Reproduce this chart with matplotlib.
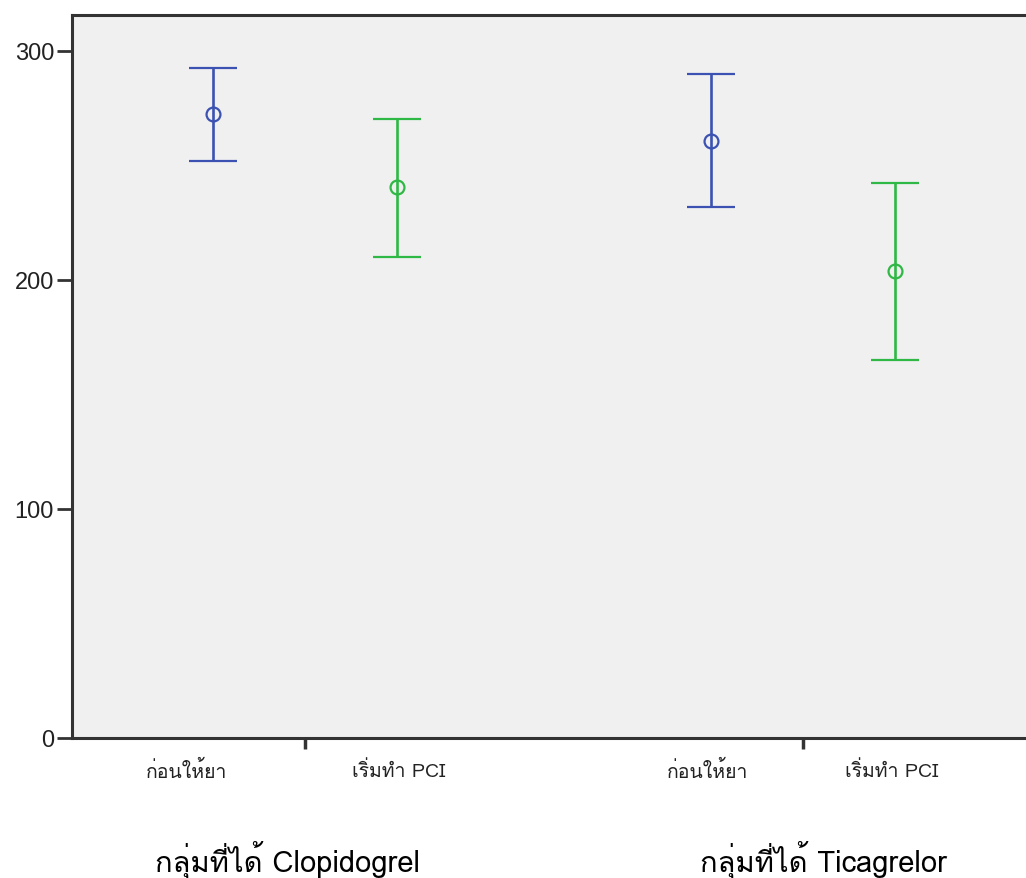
import matplotlib
matplotlib.use("Agg")
import matplotlib.pyplot as plt
from matplotlib import font_manager
from matplotlib.ft2font import FT2Font

# groups and time points
groups = ["กลุ่มที่ได้ Clopidogrel", "กลุ่มที่ได้ Ticagrelor"]
times = ["ก่อนให้ยา", "เริ่มทำ PCI"]

# mean and 95% CI, [group][time]
means = [[272.5, 240.6], [260.7, 203.9]]
lower = [[252.0, 210.0], [231.9, 165.1]]
upper = [[292.6, 270.3], [290.0, 242.4]]

# where the hand placed labels sit (axis units, group centre = 0, 1)
time_label_x = [[-0.237, 0.189], [0.809, 1.179]]
group_label_x = [-0.036, 1.042]

colors = ["#3B52B2", "#2FB845"]

# find a font that has Thai glyphs
thai_font = None
for f in font_manager.fontManager.ttflist:
    try:
        if 0x0E01 in FT2Font(f.fname).get_charmap():
            thai_font = f.name
            break
    except Exception:
        pass
fams = ["Liberation Sans", "DejaVu Sans"]
if thai_font:
    fams = [thai_font] + fams
plt.rcParams["font.family"] = fams

fig = plt.figure(figsize=(10.26, 8.79), dpi=100)
ax = fig.add_axes([0.0702, 0.1593, 0.9298, 0.8225])
ax.set_facecolor("#f0f0f0")

offset = 0.185
for g in range(len(groups)):
    for t in range(len(times)):
        x = g + (t - 0.5) * 2 * offset
        m = means[g][t]
        ax.errorbar(x, m, yerr=[[m - lower[g][t]], [upper[g][t] - m]],
                    fmt="o", color=colors[t], mfc="none", mec=colors[t],
                    ms=10, mew=1.6, elinewidth=1.9, capsize=17, capthick=2.4)
        ax.text(time_label_x[g][t], -14, times[t], ha="center", va="center",
                fontsize=14, color="#222222", clip_on=False)
    ax.text(group_label_x[g], -53, groups[g], ha="center", va="center",
            fontsize=21, color="black", clip_on=False)

ax.set_xlim(-0.468, 1.448)
ax.set_ylim(0, 315.7)
ax.set_yticks([0, 100, 200, 300])
ax.set_xticks([0, 1])
ax.set_xticklabels([])
ax.tick_params(axis="y", length=11, width=2, labelsize=17, color="#333333",
               labelcolor="#222222", pad=2)
for lab in ax.get_yticklabels():
    lab.set_family("Liberation Sans")
ax.tick_params(axis="x", length=8, width=2.5, color="#333333")

for s in ["left", "bottom", "top"]:
    ax.spines[s].set_linewidth(2.2)
    ax.spines[s].set_color("#333333")
ax.spines["right"].set_visible(False)

fig.savefig("out.png", dpi=100)
